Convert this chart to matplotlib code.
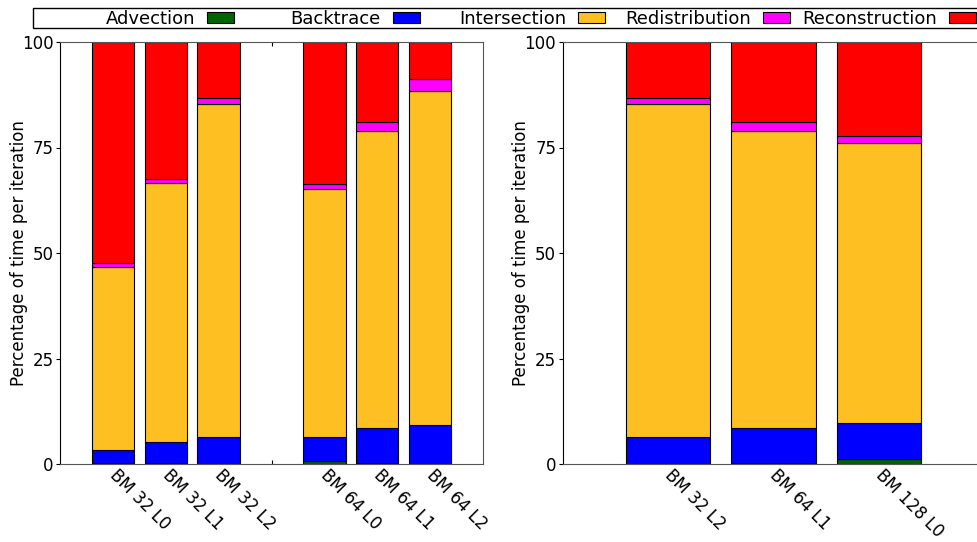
import matplotlib
matplotlib.use("Agg")
import matplotlib.pyplot as plt
import matplotlib.transforms as mtransforms
from matplotlib.patches import Patch, Rectangle
import numpy as np

# stage names and colours
stages = ['Advection', 'Backtrace', 'Intersection', 'Redistribution', 'Reconstruction']
colors = ['#006400', '#0000FF', '#FDBF22', '#FF00FF', '#FF0000']

# left panel (percent of time per iteration)
cases_left = ['BM 32 L0', 'BM 32 L1', 'BM 32 L2', 'BM 64 L0', 'BM 64 L1', 'BM 64 L2']
advection_left = [0.2, 0.2, 0.1, 0.8, 0.2, 0.1]
backtrace_left = [3.0, 5.0, 6.4, 5.5, 8.3, 9.1]
intersection_left = [43.6, 61.3, 78.9, 58.9, 70.5, 79.3]
redistribution_left = [0.8, 1.0, 1.4, 1.2, 2.0, 2.8]
reconstruction_left = [52.4, 32.5, 13.2, 33.6, 19.0, 8.7]

# right panel
cases_right = ['BM 32 L2', 'BM 64 L1', 'BM 128 L0']
advection_right = [0.1, 0.3, 1.1]
backtrace_right = [6.4, 8.2, 8.7]
intersection_right = [78.9, 70.5, 66.2]
redistribution_right = [1.4, 2.0, 1.8]
reconstruction_right = [13.2, 19.0, 22.2]

W, H = 977, 542
fig = plt.figure(figsize=(W / 100, H / 100), dpi=100)

ax1 = fig.add_axes([60 / W, (H - 464) / H, 423 / W, 422 / H])
ax2 = fig.add_axes([562.5 / W, (H - 464) / H, 422 / W, 422 / H])


def stacked(ax, x, series):
    bottom = np.zeros(len(x))
    for vals, c in zip(series, colors):
        ax.bar(x, vals, 0.8, bottom=bottom, color=c, edgecolor='black', linewidth=0.8)
        bottom += np.array(vals)


def style(ax, ticks, labels):
    ax.set_axisbelow(True)
    ax.set_ylim(0, 100)
    ax.set_yticks([0, 25, 50, 75, 100])
    ax.tick_params(axis='y', direction='out', length=3, right=False, pad=1.5, labelsize=12)
    ax.tick_params(axis='x', direction='in', length=3, top=True, labelsize=12, pad=2)
    ax.set_xticks(ticks)
    ax.set_xticklabels(labels, rotation=-45, ha='left', va='top')
    off = mtransforms.ScaledTranslation(-0.07, 0.01, fig.dpi_scale_trans)
    for lab in ax.get_xticklabels():
        lab.set_transform(lab.get_transform() + off)
    ax.set_ylabel('Percentage of time per iteration', fontsize=12)
    ax.yaxis.set_label_coords(-0.076, 0.5)
    for s in ['top', 'bottom', 'right']:
        ax.spines[s].set_color('#555555')
    ax.spines['left'].set_color('black')


x_left = np.arange(len(cases_left)) + (np.arange(len(cases_left)) >= 3)
stacked(ax1, x_left, [advection_left, backtrace_left, intersection_left,
                      redistribution_left, reconstruction_left])
ax1.set_xlim(-1, 7)
ticks_left = list(range(7))
labels_left = cases_left[:3] + [''] + cases_left[3:]
style(ax1, ticks_left, labels_left)

x_right = np.arange(len(cases_right))
stacked(ax2, x_right, [advection_right, backtrace_right, intersection_right,
                       redistribution_right, reconstruction_right])
ax2.set_xlim(-1, 3)
style(ax2, list(x_right), cases_right)

# legend strip across the top
fig.patches.append(Rectangle((33 / W, 1 - 27.5 / H), (1020 - 33) / W, 20 / H,
                             transform=fig.transFigure, facecolor='white',
                             edgecolor='black', linewidth=1.0))
handle_ends = [234, 420, 605, 790, 976]
for name, c, xe in zip(stages, colors, handle_ends):
    fig.legend(handles=[Patch(facecolor=c, edgecolor='black', linewidth=0.8)],
               labels=[name], loc='center right',
               bbox_to_anchor=(xe / W, 1 - 18.5 / H), frameon=False,
               markerfirst=False, borderpad=0, borderaxespad=0,
               handlelength=1.47, handleheight=0.55, handletextpad=0.69,
               fontsize=13)

fig.savefig('out.png', dpi=100)
